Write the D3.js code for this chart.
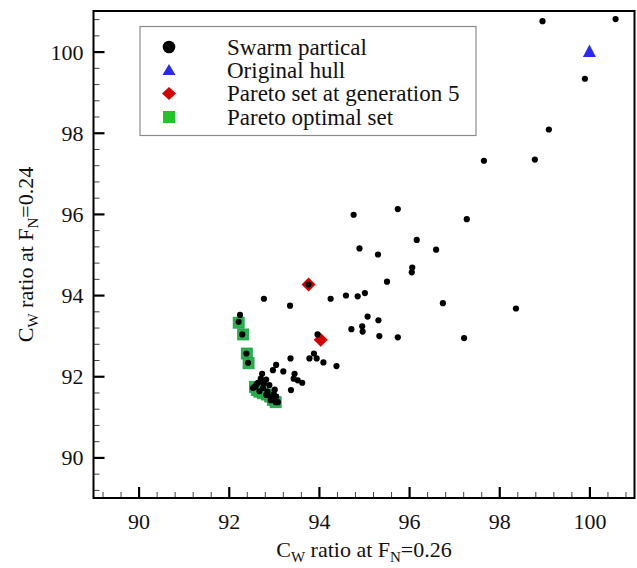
<!DOCTYPE html>
<html>
<head>
<meta charset="utf-8">
<script src="https://cdn.jsdelivr.net/npm/d3@7/dist/d3.min.js"></script>
<style>
  html, body { margin: 0; padding: 0; background: #fff; }
  svg { display: block; }
  svg text { font-family: "Liberation Serif", Tinos, "Times New Roman", Times, "Nimbus Roman", "Nimbus Roman No9 L", "Noto Serif", "DejaVu Serif", FreeSerif, serif !important; fill: #111; }
</style>
</head>
<body>
<svg id="chart" width="637" height="568"></svg>
<script>
// ---------------- data ----------------
const xTickLabels = [90, 92, 94, 96, 98, 100];
const yTickLabels = [90, 92, 94, 96, 98, 100];

const seriesNames = ["Swarm partical", "Original hull", "Pareto set at generation 5", "Pareto optimal set"];

// Swarm particles: [Cw ratio at Fn=0.26, Cw ratio at Fn=0.24]
const swarmX = [
  98.96, 100.58, 99.90, 99.10, 98.79, 97.66,
  94.77, 95.75, 97.28, 96.17, 94.90, 95.31, 96.60, 96.07, 96.06, 95.51, 94.26, 94.60, 94.86, 95.02,
  96.75, 98.37, 95.08, 95.32, 94.72, 94.96, 94.97, 95.34, 95.75, 97.22, 94.39,
  93.77, 92.78, 93.36, 92.25, 92.22, 92.30, 92.39, 92.43, 93.97, 93.89, 93.79, 93.95, 94.10, 93.37,
  93.05, 92.98, 93.21, 93.46, 93.44, 93.53, 93.63, 93.38, 92.74,
  92.83, 92.65, 92.90, 92.59, 92.76, 93.02, 92.68, 92.86, 92.54, 92.83, 92.95, 93.05, 93.09, 92.93,
  93.00, 92.71, 92.62, 92.78, 92.58, 92.92, 93.04
];
const swarmY = [
  100.75, 100.80, 99.33, 98.08, 97.34, 97.31,
  95.98, 96.12, 95.87, 95.36, 95.15, 95.00, 95.12, 94.68, 94.56, 94.33, 93.91, 93.99, 93.97, 94.05,
  93.80, 93.67, 93.47, 93.38, 93.16, 93.23, 93.10, 92.99, 92.96, 92.94, 92.25,
  94.26, 93.91, 93.74, 93.51, 93.34, 93.03, 92.56, 92.33, 93.03, 92.56, 92.44, 92.44, 92.34, 92.44,
  92.28, 92.15, 92.12, 92.06, 91.94, 91.90, 91.84, 91.66, 92.06,
  91.92, 91.84, 91.78, 91.75, 91.71, 91.67, 91.63, 91.62, 91.71, 91.54, 91.47, 91.50, 91.36, 91.41,
  91.56, 91.94, 91.81, 91.82, 91.74, 91.50, 91.36
];

// Original hull
const hullX = [100.0];
const hullY = [100.0];

// Pareto set at generation 5
const gen5X = [93.77, 94.04];
const gen5Y = [94.26, 92.90];

// Pareto optimal set
const paretoX = [92.22, 92.32, 92.40, 92.44, 92.58, 92.62, 92.68, 92.76, 92.85, 92.92, 92.98, 93.04];
const paretoY = [93.32, 93.03, 92.56, 92.32, 91.74, 91.66, 91.62, 91.58, 91.55, 91.50, 91.42, 91.36];

// ---------------- chart ----------------
const FONT = "'Liberation Serif', Tinos, 'Times New Roman', Times, 'Noto Serif', 'DejaVu Serif', serif";
const svg = d3.select("#chart");
const L = 93.5, R = 634.5, T = 11, B = 498;

const x = d3.scaleLinear().domain([89, 101]).range([L, R]);
const y = d3.scaleLinear().domain([89, 101]).range([B, T]);

const minorVals = d3.range(89.2, 101, 0.4).map(v => +v.toFixed(1)).filter(v => Math.abs(v % 2) > 0.01);

const BLACK = "#000", BLUE = "#2a2af0", RED = "#d40000", GREEN = "#22c428", GREEN_S = "#26b44a";

// minor ticks
svg.append("g").attr("transform", `translate(0,${B})`)
  .call(d3.axisBottom(x).tickValues(minorVals).tickSize(-6).tickFormat(""))
  .call(g => g.select(".domain").remove())
  .call(g => g.selectAll("line").attr("stroke", "#444").attr("stroke-width", 1));
svg.append("g").attr("transform", `translate(${L},0)`)
  .call(d3.axisLeft(y).tickValues(minorVals).tickSize(-6).tickFormat(""))
  .call(g => g.select(".domain").remove())
  .call(g => g.selectAll("line").attr("stroke", "#444").attr("stroke-width", 1));

// major ticks + labels
const xa = svg.append("g").attr("transform", `translate(0,${B})`)
  .call(d3.axisBottom(x).tickValues(xTickLabels).tickSize(-11).tickPadding(0).tickFormat(d3.format("d")));
xa.attr("font-family", FONT);
xa.select(".domain").remove();
xa.selectAll("line").attr("stroke", BLACK).attr("stroke-width", 2.2);
xa.selectAll("text").attr("font-size", 22).attr("fill", "#111")
  .attr("dy", null).attr("y", 31);

const ya = svg.append("g").attr("transform", `translate(${L},0)`)
  .call(d3.axisLeft(y).tickValues(yTickLabels).tickSize(-11).tickPadding(0).tickFormat(d3.format("d")));
ya.attr("font-family", FONT);
ya.select(".domain").remove();
ya.selectAll("line").attr("stroke", BLACK).attr("stroke-width", 2.2);
ya.selectAll("text").attr("font-size", 22).attr("fill", "#111")
  .attr("x", -10).attr("dy", "0.34em");

// frame
svg.append("rect").attr("x", L).attr("y", T).attr("width", R - L).attr("height", B - T)
  .attr("fill", "none").attr("stroke", BLACK).attr("stroke-width", 2);

// marks
const plot = svg.append("g");
const sq = 11;
plot.selectAll("rect.pareto").data(paretoX.map((d, i) => [d, paretoY[i]])).enter()
  .append("rect").attr("class", "pareto")
  .attr("x", d => x(d[0]) - sq / 2).attr("y", d => y(d[1]) - sq / 2)
  .attr("width", sq).attr("height", sq)
  .attr("fill", GREEN_S).attr("stroke", "#1e9a48").attr("stroke-width", 0.8);

plot.selectAll("path.gen5").data(gen5X.map((d, i) => [d, gen5Y[i]])).enter()
  .append("path").attr("class", "gen5")
  .attr("d", "M0,-7 L7,0 L0,7 L-7,0 Z")
  .attr("transform", d => `translate(${x(d[0])},${y(d[1])})`)
  .attr("fill", RED);

plot.selectAll("path.hull").data(hullX.map((d, i) => [d, hullY[i]])).enter()
  .append("path").attr("class", "hull")
  .attr("d", "M0,-7 L6.5,5.5 L-6.5,5.5 Z")
  .attr("transform", d => `translate(${x(d[0])},${y(d[1])})`)
  .attr("fill", BLUE);

plot.selectAll("circle.swarm").data(swarmX.map((d, i) => [d, swarmY[i]])).enter()
  .append("circle").attr("class", "swarm")
  .attr("cx", d => x(d[0])).attr("cy", d => y(d[1])).attr("r", 3.1)
  .attr("fill", BLACK);

// legend
const lg = svg.append("g").attr("font-family", FONT);
lg.append("rect").attr("x", 140).attr("y", 26.5).attr("width", 336).attr("height", 109)
  .attr("fill", "#fff").attr("stroke", "#8a8a8a").attr("stroke-width", 1.2);
const rowY = [47, 70, 93.5, 117];
const mx = 169;
lg.append("circle").attr("cx", mx).attr("cy", rowY[0]).attr("r", 6.3).attr("fill", BLACK);
lg.append("path").attr("d", "M0,-6 L6.5,5 L-6.5,5 Z").attr("transform", `translate(${mx},${rowY[1]})`).attr("fill", BLUE);
lg.append("path").attr("d", "M0,-6.5 L7,0 L0,6.5 L-7,0 Z").attr("transform", `translate(${mx},${rowY[2]})`).attr("fill", RED);
lg.append("rect").attr("x", mx - 6).attr("y", rowY[3] - 6).attr("width", 12).attr("height", 12).attr("fill", GREEN);
seriesNames.forEach((s, i) => {
  lg.append("text").attr("x", 227).attr("y", rowY[i] + 7.5).attr("font-size", 23).text(s);
});

// axis titles
const xt = svg.append("text").attr("x", (L + R) / 2).attr("y", 557).attr("text-anchor", "middle")
  .attr("font-size", 22).attr("font-family", FONT);
xt.append("tspan").text("C");
xt.append("tspan").attr("font-size", 15).attr("dy", 5).text("W");
xt.append("tspan").attr("dy", -5).text(" ratio at F");
xt.append("tspan").attr("font-size", 15).attr("dy", 5).text("N");
xt.append("tspan").attr("dy", -5).text("=0.26");

const yt = svg.append("text").attr("transform", `translate(33,${(T + B) / 2}) rotate(-90)`)
  .attr("text-anchor", "middle").attr("font-size", 22).attr("font-family", FONT);
yt.append("tspan").text("C");
yt.append("tspan").attr("font-size", 15).attr("dy", 5).text("W");
yt.append("tspan").attr("dy", -5).text(" ratio at F");
yt.append("tspan").attr("font-size", 15).attr("dy", 5).text("N");
yt.append("tspan").attr("dy", -5).text("=0.24");
</script>
</body>
</html>
